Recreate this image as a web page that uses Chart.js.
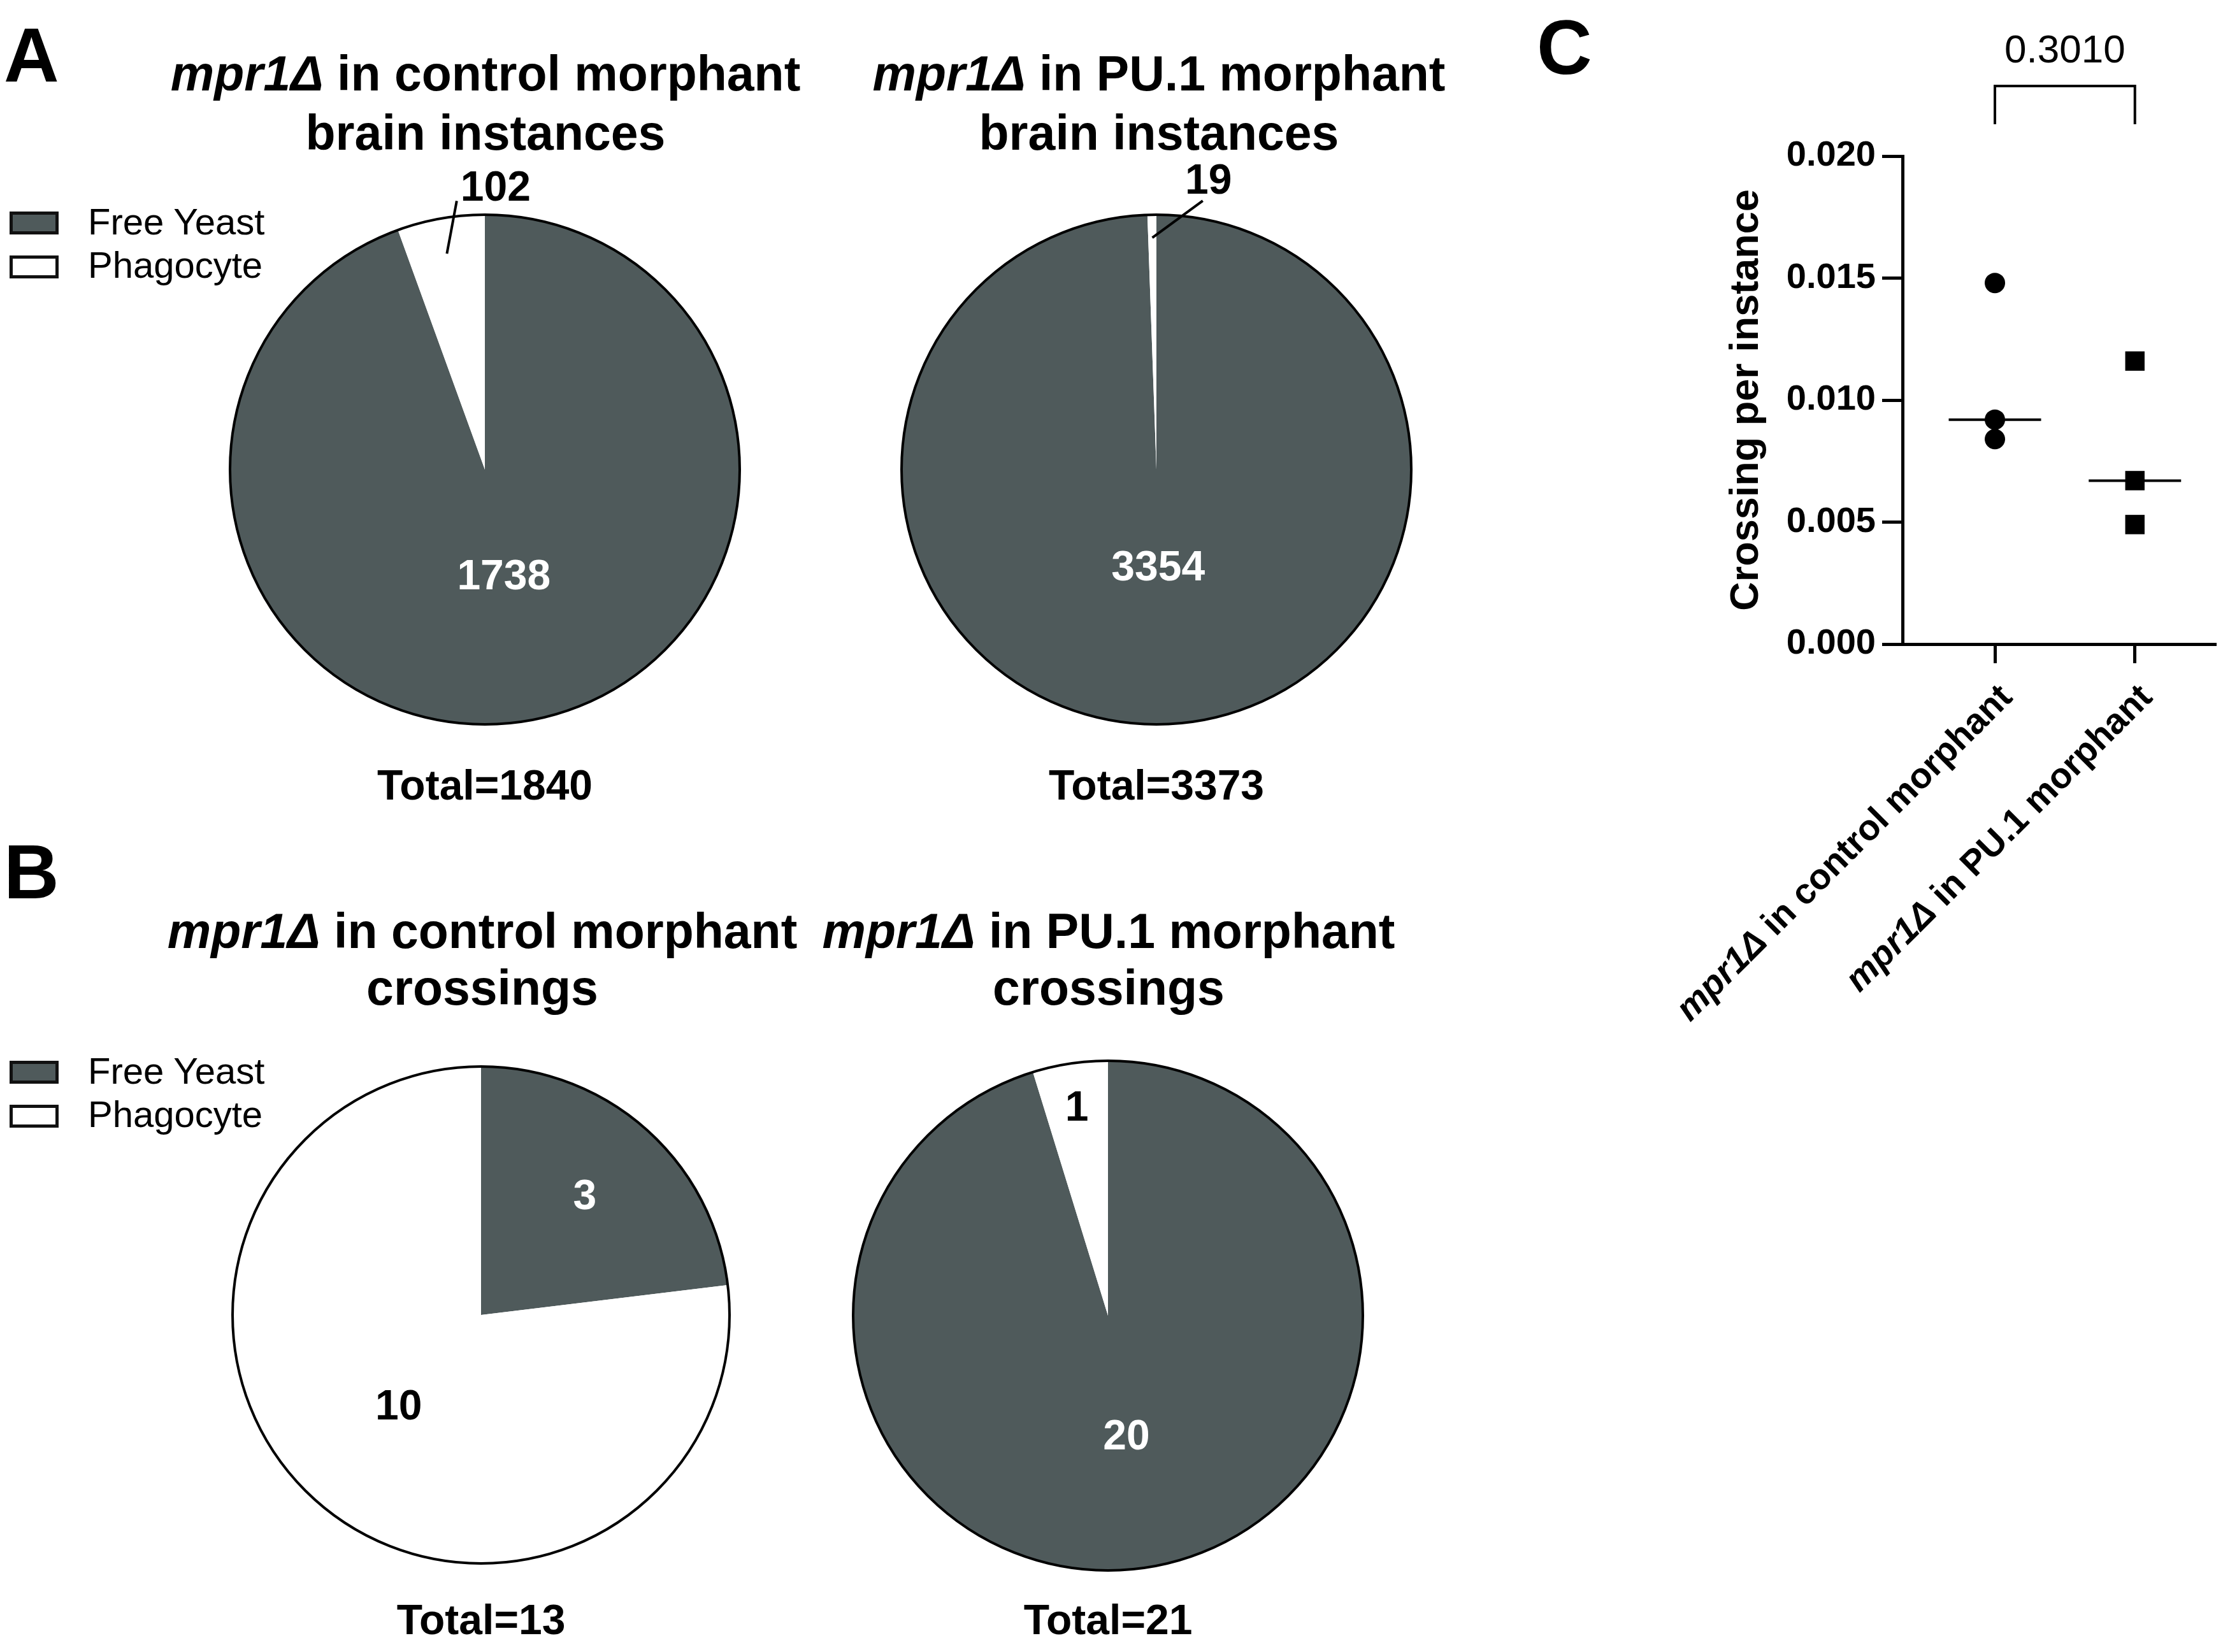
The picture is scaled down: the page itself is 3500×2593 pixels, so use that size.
<!DOCTYPE html>
<html>
<head>
<meta charset="utf-8">
<script src="https://cdn.jsdelivr.net/npm/chart.js@4.4.1/dist/chart.umd.min.js"></script>
<style>
  html, body { margin: 0; padding: 0; background: #fff; }
  body {
    width: 3500px; height: 2593px; position: relative; overflow: hidden;
    font-family: "Liberation Sans", Arial, sans-serif; color: #000;
  }
  canvas { position: absolute; }
  .txt { position: absolute; white-space: nowrap; }
  .swatch { position: absolute; box-sizing: border-box; border: 5px solid #111; }
</style>
</head>
<body>
<script>
// values
const sliceNames = ["Free Yeast", "Phagocyte"];
const brainControl = [1738, 102];
const brainPU1 = [3354, 19];
const crossControl = [3, 10];
const crossPU1 = [20, 1];
const pieTitles = [
  "mpr1Δ in control morphant\nbrain instances",
  "mpr1Δ in PU.1 morphant\nbrain instances",
  "mpr1Δ in control morphant\ncrossings",
  "mpr1Δ in PU.1 morphant\ncrossings"
];
const groupNames = ["mpr1Δ in control morphant", "mpr1Δ in PU.1 morphant"];
const crossingControl = [0.0148, 0.0092, 0.0084];
const crossingPU1 = [0.0116, 0.0067, 0.0049];
const yTicks = [0, 0.005, 0.01, 0.015, 0.02];
const yTitle = "Crossing per instance";
const pValue = "0.3010";

const GREY = "#4f5a5b";
const FONT = '"Liberation Sans", Arial, sans-serif';

function geneHtml(text) {
  return text.replace("mpr1Δ", "<i>mpr1Δ</i>").replace("\n", "<br>");
}

function placeText(html, x, baseline, size, opts = {}) {
  const el = document.createElement("div");
  el.className = "txt";
  el.innerHTML = html;
  const lh = opts.lineHeight || size;
  el.style.fontSize = size + "px";
  el.style.lineHeight = lh + "px";
  el.style.fontWeight = opts.weight || "bold";
  el.style.top = baseline - ((lh - 1.117 * size) / 2 + 0.905 * size) + "px";
  el.style.left = x + "px";
  if (opts.center) {
    el.style.textAlign = "center";
    el.style.transform = "translateX(-50%)";
  }
  document.body.append(el);
}

function placeLegend(top) {
  const fills = [GREY, "#fff"];
  sliceNames.forEach((name, i) => {
    const box = document.createElement("div");
    box.className = "swatch";
    box.style.left = "15px";
    box.style.top = top + i * 69 + "px";
    box.style.width = "77px";
    box.style.height = "36px";
    box.style.background = fills[i];
    document.body.append(box);
    placeText(name, 138, top + 36 + i * 68, 58, { weight: "normal" });
  });
}

// outline + value labels on each pie
const sliceLabels = {
  id: "sliceLabels",
  afterDatasetsDraw(chart, args, opts) {
    const ctx = chart.ctx;
    const meta = chart.getDatasetMeta(0);
    const values = chart.data.datasets[0].data;
    const { x, y, outerRadius } = meta.data[0].getProps(["x", "y", "outerRadius"], true);

    ctx.save();
    ctx.beginPath();
    ctx.arc(x, y, outerRadius, 0, Math.PI * 2);
    ctx.lineWidth = 4;
    ctx.strokeStyle = "#000";
    ctx.stroke();

    ctx.font = `bold 66px ${FONT}`;
    ctx.textAlign = "center";
    ctx.textBaseline = "middle";
    meta.data.forEach((arc, i) => {
      const { startAngle, endAngle } = arc.getProps(["startAngle", "endAngle"], true);
      const mid = (startAngle + endAngle) / 2;
      const spec = opts.slices[i];
      ctx.fillStyle = i === 0 ? "#fff" : "#000";
      if (spec.leader) {
        const [f0, f1, shift] = spec.leader;
        const a1 = mid + (shift * Math.PI) / 180;
        const sx = x + Math.cos(mid) * outerRadius * f0;
        const sy = y + Math.sin(mid) * outerRadius * f0;
        const ex = x + Math.cos(a1) * outerRadius * f1;
        const ey = y + Math.sin(a1) * outerRadius * f1;
        ctx.beginPath();
        ctx.moveTo(sx, sy);
        ctx.lineTo(ex, ey);
        ctx.lineWidth = 4;
        ctx.stroke();
        ctx.fillStyle = "#000";
        ctx.fillText(String(values[i]), ex + spec.dx, ey + spec.dy);
      } else {
        ctx.fillText(
          String(values[i]),
          x + Math.cos(mid) * outerRadius * spec.frac,
          y + Math.sin(mid) * outerRadius * spec.frac
        );
      }
    });
    ctx.restore();
  }
};

function drawPie(data, cx, cy, r, slices) {
  const m = 150;
  const canvas = document.createElement("canvas");
  const size = 2 * (r + m);
  canvas.width = size;
  canvas.height = size;
  canvas.style.left = cx - r - m + "px";
  canvas.style.top = cy - r - m + "px";
  document.body.append(canvas);

  new Chart(canvas, {
    type: "pie",
    data: {
      labels: sliceNames,
      datasets: [{ data, backgroundColor: [GREY, "#fff"], borderWidth: 0 }]
    },
    options: {
      responsive: false,
      animation: false,
      events: [],
      devicePixelRatio: 1,
      layout: { padding: m },
      plugins: {
        legend: { display: false },
        tooltip: { enabled: false },
        sliceLabels: { slices }
      }
    },
    plugins: [sliceLabels]
  });

  const total = data.reduce((a, b) => a + b, 0);
  return total;
}

// panel letters
placeText("A", 6, 128, 120);
placeText("B", 6, 1410, 120);
placeText("C", 2412, 116, 120);

// titles
placeText(geneHtml(pieTitles[0]), 762, 142, 77, { center: true, lineHeight: 93 });
placeText(geneHtml(pieTitles[1]), 1819, 142, 77, { center: true, lineHeight: 93 });
placeText(geneHtml(pieTitles[2]), 757, 1488, 77, { center: true, lineHeight: 89 });
placeText(geneHtml(pieTitles[3]), 1740, 1488, 77, { center: true, lineHeight: 89 });

placeLegend(332);
placeLegend(1665);

const totals = [
  [drawPie(brainControl, 761, 737, 400, [{ frac: 0.43 }, { leader: [0.86, 1.06, 4], dx: 61, dy: -19 }]), 761, 1255],
  [drawPie(brainPU1, 1815, 737, 400, [{ frac: 0.39 }, { leader: [0.91, 1.07, 10.8], dx: 9, dy: -29 }]), 1815, 1255],
  [drawPie(crossControl, 755, 2064, 390, [{ frac: 0.63 }, { frac: 0.5 }]), 755, 2565],
  [drawPie(crossPU1, 1739, 2065, 400, [{ frac: 0.485 }, { frac: 0.82 }]), 1739, 2565]
];
totals.forEach(([total, x, base]) => placeText("Total=" + total, x, base, 66, { center: true }));

// panel C
function median(values) {
  const s = [...values].sort((a, b) => a - b);
  return s[Math.floor(s.length / 2)];
}

const panelC = {
  id: "panelC",
  afterDraw(chart) {
    const ctx = chart.ctx;
    const xs = chart.scales.x;
    const bottom = chart.chartArea.bottom;
    const x1 = xs.getPixelForValue(1);
    const x2 = xs.getPixelForValue(2);

    ctx.save();
    ctx.strokeStyle = "#000";
    ctx.lineWidth = 4;
    ctx.beginPath();
    ctx.moveTo(x1, 195);
    ctx.lineTo(x1, 135);
    ctx.lineTo(x2, 135);
    ctx.lineTo(x2, 195);
    ctx.stroke();

    ctx.fillStyle = "#000";
    ctx.font = `62px ${FONT}`;
    ctx.textAlign = "center";
    ctx.textBaseline = "alphabetic";
    ctx.fillText(pValue, (x1 + x2) / 2, 98);

    groupNames.forEach((name, i) => {
      const px = xs.getPixelForValue(i + 1);
      const gene = name.split(" ")[0];
      const rest = name.slice(gene.length);
      ctx.save();
      ctx.translate(px + 30, bottom + 86);
      ctx.rotate(-Math.PI / 4);
      ctx.textAlign = "left";
      ctx.font = `bold 56px ${FONT}`;
      const w2 = ctx.measureText(rest).width;
      ctx.font = `italic bold 56px ${FONT}`;
      const w1 = ctx.measureText(gene).width;
      ctx.fillText(gene, -(w1 + w2), 0);
      ctx.font = `bold 56px ${FONT}`;
      ctx.fillText(rest, -w2, 0);
      ctx.restore();
    });
    ctx.restore();
  }
};

const cCanvas = document.createElement("canvas");
cCanvas.width = 1100;
cCanvas.height = 1750;
cCanvas.style.left = "2400px";
cCanvas.style.top = "0px";
document.body.append(cCanvas);

new Chart(cCanvas, {
  type: "scatter",
  data: {
    datasets: [
      {
        data: crossingControl.map((v) => ({ x: 1, y: v })),
        pointStyle: "circle",
        pointRadius: 16,
        backgroundColor: "#000",
        borderWidth: 0
      },
      {
        data: crossingPU1.map((v) => ({ x: 2, y: v })),
        pointStyle: "rect",
        pointRadius: 21.5,
        backgroundColor: "#000",
        borderWidth: 0
      },
      {
        data: [
          { x: 1, y: median(crossingControl) },
          { x: 2, y: median(crossingPU1) }
        ],
        pointStyle: "line",
        pointRadius: 72.5,
        borderColor: "#000",
        borderWidth: 4
      }
    ]
  },
  options: {
    responsive: false,
    animation: false,
    events: [],
    devicePixelRatio: 1,
    layout: { autoPadding: false, padding: { top: 245, right: 24, left: 0, bottom: 0 } },
    plugins: { legend: { display: false }, tooltip: { enabled: false } },
    scales: {
      x: {
        type: "linear",
        min: 0.34,
        max: 2.57,
        afterBuildTicks: (scale) => {
          scale.ticks = [{ value: 1 }, { value: 2 }];
        },
        afterFit: (scale) => {
          scale.height = 739;
        },
        grid: { drawOnChartArea: false, drawTicks: true, tickLength: 30, color: "#000", lineWidth: 5 },
        border: { display: true, color: "#000", width: 5 },
        ticks: { display: false }
      },
      y: {
        min: 0,
        max: 0.02,
        afterBuildTicks: (scale) => {
          scale.ticks = yTicks.map((v) => ({ value: v }));
        },
        afterFit: (scale) => {
          scale.width = 586;
        },
        grid: { drawOnChartArea: false, drawTicks: true, tickLength: 32, color: "#000", lineWidth: 5 },
        border: { display: true, color: "#000", width: 5 },
        ticks: {
          color: "#000",
          padding: 10,
          font: { family: FONT, size: 56, weight: "bold" },
          callback: (v) => Number(v).toFixed(3)
        },
        title: {
          display: true,
          text: yTitle,
          color: "#000",
          font: { family: FONT, size: 63, weight: "bold" },
          padding: { top: 304, bottom: 0 }
        }
      }
    }
  },
  plugins: [panelC]
});
</script>
</body>
</html>
